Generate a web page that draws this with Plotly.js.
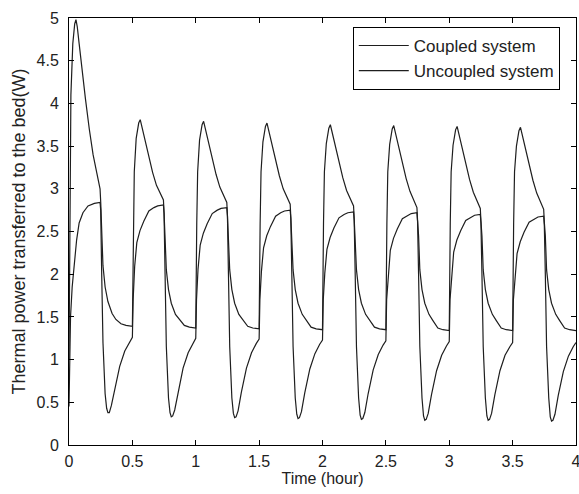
<!DOCTYPE html>
<html>
<head>
<meta charset="utf-8">
<script src="https://cdn.plot.ly/plotly-3.0.1.min.js"></script>
<style>
html,body{margin:0;padding:0;background:#fff;}
#chart{width:579px;height:494px;}
</style>
</head>
<body>
<div id="chart"></div>
<script>
// Coupled system (peaky curve)
var coupledTime = [
  0, 0.005, 0.015, 0.03, 0.045, 0.055, 0.065, 0.08, 0.1, 0.13, 0.16, 0.19, 0.22, 0.245, 0.25, 0.258, 0.268, 0.285, 0.307, 0.34, 0.37, 0.41, 0.45,
  0.5, 0.508, 0.515, 0.53, 0.55, 0.562, 0.575, 0.6, 0.63, 0.66, 0.69, 0.72, 0.745, 0.75, 0.758, 0.768, 0.785, 0.807, 0.84, 0.87, 0.91, 0.95,
  1.0, 1.008, 1.015, 1.03, 1.05, 1.062, 1.075, 1.1, 1.13, 1.16, 1.19, 1.22, 1.245, 1.25, 1.258, 1.268, 1.285, 1.307, 1.34, 1.37, 1.41, 1.45,
  1.5, 1.508, 1.515, 1.53, 1.55, 1.562, 1.575, 1.6, 1.63, 1.66, 1.69, 1.72, 1.745, 1.75, 1.758, 1.768, 1.785, 1.807, 1.84, 1.87, 1.91, 1.95,
  2.0, 2.008, 2.015, 2.03, 2.05, 2.062, 2.075, 2.1, 2.13, 2.16, 2.19, 2.22, 2.245, 2.25, 2.258, 2.268, 2.285, 2.307, 2.34, 2.37, 2.41, 2.45,
  2.5, 2.508, 2.515, 2.53, 2.55, 2.562, 2.575, 2.6, 2.63, 2.66, 2.69, 2.72, 2.745, 2.75, 2.758, 2.768, 2.785, 2.807, 2.84, 2.87, 2.91, 2.95,
  3.0, 3.008, 3.015, 3.03, 3.05, 3.062, 3.075, 3.1, 3.13, 3.16, 3.19, 3.22, 3.245, 3.25, 3.258, 3.268, 3.285, 3.307, 3.34, 3.37, 3.41, 3.45,
  3.5, 3.508, 3.515, 3.53, 3.55, 3.562, 3.575, 3.6, 3.63, 3.66, 3.69, 3.72, 3.745, 3.75, 3.758, 3.768, 3.785, 3.807, 3.84, 3.87, 3.91, 3.95, 4.0
];
var coupledPower = [
  1.0, 2.4, 4.1, 4.7, 4.93, 4.98, 4.9, 4.7, 4.42, 4.05, 3.7, 3.4, 3.18, 3.0, 2.85, 2.5, 2.1, 1.85, 1.68, 1.54, 1.47, 1.42, 1.40,
  1.39, 2.6, 3.2, 3.59, 3.77, 3.81, 3.73, 3.56, 3.36, 3.19, 3.04, 2.94, 2.87, 2.72, 2.45, 2.05, 1.82, 1.66, 1.53, 1.47, 1.40, 1.38,
  1.37, 2.6, 3.2, 3.57, 3.75, 3.79, 3.71, 3.54, 3.34, 3.17, 3.02, 2.92, 2.84, 2.69, 2.45, 2.05, 1.82, 1.66, 1.53, 1.47, 1.39, 1.37,
  1.36, 2.6, 3.2, 3.55, 3.73, 3.77, 3.69, 3.52, 3.32, 3.15, 3.00, 2.90, 2.82, 2.67, 2.45, 2.05, 1.82, 1.66, 1.53, 1.47, 1.38, 1.36,
  1.35, 2.6, 3.2, 3.53, 3.71, 3.75, 3.67, 3.50, 3.30, 3.13, 2.98, 2.88, 2.80, 2.65, 2.45, 2.05, 1.82, 1.66, 1.53, 1.47, 1.38, 1.36,
  1.35, 2.6, 3.2, 3.52, 3.70, 3.74, 3.66, 3.49, 3.29, 3.12, 2.97, 2.87, 2.78, 2.63, 2.45, 2.05, 1.82, 1.66, 1.53, 1.46, 1.37, 1.35,
  1.34, 2.6, 3.2, 3.51, 3.69, 3.73, 3.65, 3.48, 3.28, 3.11, 2.96, 2.86, 2.77, 2.62, 2.45, 2.05, 1.82, 1.66, 1.53, 1.46, 1.37, 1.35,
  1.34, 2.6, 3.2, 3.50, 3.68, 3.72, 3.64, 3.47, 3.27, 3.10, 2.95, 2.85, 2.76, 2.61, 2.45, 2.05, 1.82, 1.66, 1.53, 1.46, 1.37, 1.35, 1.34
];
// Uncoupled system (plateau curve)
var uncoupledTime = [
  0, 0.005, 0.012, 0.025, 0.04, 0.06, 0.08, 0.11, 0.15, 0.2, 0.245, 0.25, 0.258, 0.268, 0.285, 0.297, 0.307, 0.318, 0.334, 0.36, 0.4, 0.44, 0.478,
  0.5, 0.506, 0.518, 0.535, 0.56, 0.59, 0.63, 0.67, 0.7, 0.745, 0.75, 0.758, 0.768, 0.785, 0.797, 0.807, 0.818, 0.834, 0.86, 0.9, 0.94, 0.978,
  1.0, 1.006, 1.018, 1.035, 1.06, 1.09, 1.13, 1.17, 1.2, 1.245, 1.25, 1.258, 1.268, 1.285, 1.297, 1.307, 1.318, 1.334, 1.36, 1.4, 1.44, 1.478,
  1.5, 1.506, 1.518, 1.535, 1.56, 1.59, 1.63, 1.67, 1.7, 1.745, 1.75, 1.758, 1.768, 1.785, 1.797, 1.807, 1.818, 1.834, 1.86, 1.9, 1.94, 1.978,
  2.0, 2.006, 2.018, 2.035, 2.06, 2.09, 2.13, 2.17, 2.2, 2.245, 2.25, 2.258, 2.268, 2.285, 2.297, 2.307, 2.318, 2.334, 2.36, 2.4, 2.44, 2.478,
  2.5, 2.506, 2.518, 2.535, 2.56, 2.59, 2.63, 2.67, 2.7, 2.745, 2.75, 2.758, 2.768, 2.785, 2.797, 2.807, 2.818, 2.834, 2.86, 2.9, 2.94, 2.978,
  3.0, 3.006, 3.018, 3.035, 3.06, 3.09, 3.13, 3.17, 3.2, 3.245, 3.25, 3.258, 3.268, 3.285, 3.297, 3.307, 3.318, 3.334, 3.36, 3.4, 3.44, 3.478,
  3.5, 3.506, 3.518, 3.535, 3.56, 3.59, 3.63, 3.67, 3.7, 3.745, 3.75, 3.758, 3.768, 3.785, 3.797, 3.807, 3.818, 3.834, 3.86, 3.9, 3.94, 3.978, 4.0
];
var uncoupledPower = [
  0.45, 1.0, 1.5, 1.85, 2.1, 2.4, 2.6, 2.72, 2.8, 2.83, 2.84, 2.75, 2.0, 1.2, 0.6, 0.43, 0.38, 0.38, 0.46, 0.65, 0.92, 1.1, 1.21,
  1.26, 1.7, 2.09, 2.37, 2.51, 2.62, 2.74, 2.78, 2.80, 2.81, 2.71, 2.0, 1.15, 0.55, 0.38, 0.33, 0.34, 0.41, 0.62, 0.9, 1.08, 1.20,
  1.25, 1.7, 2.06, 2.34, 2.48, 2.59, 2.71, 2.75, 2.77, 2.78, 2.68, 2.0, 1.15, 0.55, 0.37, 0.32, 0.33, 0.40, 0.62, 0.9, 1.08, 1.19,
  1.24, 1.7, 2.03, 2.31, 2.45, 2.56, 2.68, 2.72, 2.74, 2.75, 2.65, 2.0, 1.15, 0.55, 0.36, 0.31, 0.32, 0.39, 0.61, 0.89, 1.07, 1.18,
  1.23, 1.7, 2.01, 2.29, 2.43, 2.54, 2.66, 2.70, 2.72, 2.73, 2.63, 2.0, 1.15, 0.55, 0.35, 0.30, 0.31, 0.38, 0.60, 0.88, 1.06, 1.17,
  1.22, 1.7, 2.00, 2.28, 2.42, 2.53, 2.65, 2.69, 2.71, 2.72, 2.62, 2.0, 1.15, 0.55, 0.34, 0.29, 0.30, 0.37, 0.59, 0.87, 1.05, 1.16,
  1.21, 1.7, 1.98, 2.26, 2.40, 2.51, 2.63, 2.67, 2.69, 2.70, 2.60, 2.0, 1.15, 0.55, 0.34, 0.29, 0.30, 0.37, 0.59, 0.87, 1.05, 1.15,
  1.20, 1.7, 1.96, 2.24, 2.38, 2.49, 2.61, 2.65, 2.67, 2.68, 2.58, 2.0, 1.15, 0.55, 0.33, 0.28, 0.29, 0.36, 0.58, 0.86, 1.04, 1.15, 1.20
];
var seriesNames = ["Coupled system", "Uncoupled system"];
var xTickVals = [0, 0.5, 1, 1.5, 2, 2.5, 3, 3.5, 4];
var xTickText = ["0", "0.5", "1", "1.5", "2", "2.5", "3", "3.5", "4"];
var yTickVals = [0, 0.5, 1, 1.5, 2, 2.5, 3, 3.5, 4, 4.5, 5];
var yTickText = ["0", "0.5", "1", "1.5", "2", "2.5", "3", "3.5", "4", "4.5", "5"];

var FONT = "Liberation Sans, Arial, Helvetica, sans-serif";
var TXT = "#222";
var lineStyle = {color: "#1e1e1e", width: 1.2};

var traces = [
  {x: coupledTime, y: coupledPower, name: seriesNames[0], type: "scatter", mode: "lines", line: lineStyle},
  {x: uncoupledTime, y: uncoupledPower, name: seriesNames[1], type: "scatter", mode: "lines", line: lineStyle}
];

var axisCommon = {
  showgrid: false, zeroline: false, showline: true, linecolor: "#000", linewidth: 1,
  mirror: "ticks", ticks: "inside", ticklen: 5, tickwidth: 1, tickcolor: "#000",
  tickfont: {family: FONT, size: 16, color: TXT},
  automargin: false, ticklabeloverflow: "allow"
};

var layout = {
  width: 579, height: 494,
  margin: {l: 69, r: 3, t: 18, b: 49},
  paper_bgcolor: "#fff", plot_bgcolor: "#fff",
  showlegend: true,
  legend: {
    x: 0.968, xanchor: "right", y: 0.979, yanchor: "top",
    bgcolor: "#fff", bordercolor: "#000", borderwidth: 1,
    font: {family: FONT, size: 17, color: TXT},
    tracegroupgap: 0, itemwidth: 50
  },
  xaxis: Object.assign({}, axisCommon, {
    range: [0, 4], tickmode: "array", tickvals: xTickVals, ticktext: xTickText,
    ticklabelstandoff: 2,
    title: {text: "Time (hour)", font: {family: FONT, size: 16, color: TXT}, standoff: 2}
  }),
  yaxis: Object.assign({}, axisCommon, {
    range: [0, 5], tickmode: "array", tickvals: yTickVals, ticktext: yTickText,
    ticklabelstandoff: 6,
    title: {text: "Thermal power transferred to the bed(W)", font: {family: FONT, size: 18, color: TXT}, standoff: 6}
  })
};

Plotly.newPlot("chart", traces, layout, {displayModeBar: false, staticPlot: true});
</script>
</body>
</html>
